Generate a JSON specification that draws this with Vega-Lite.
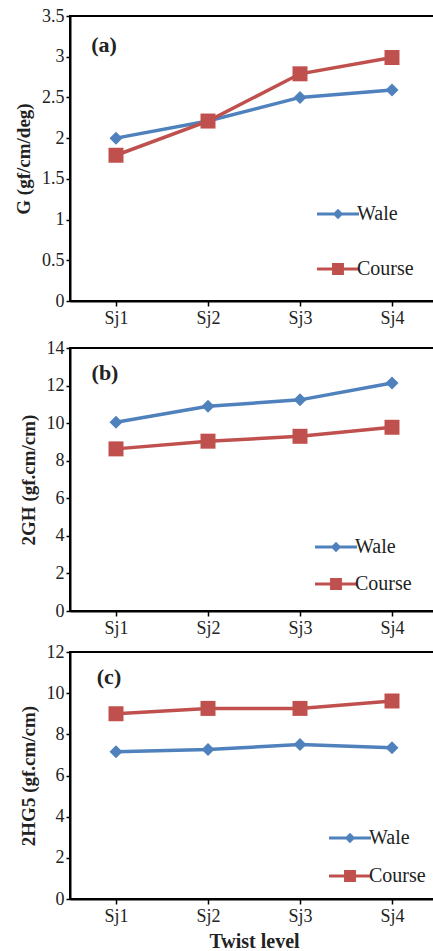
{
  "$schema": "https://vega.github.io/schema/vega-lite/v6.json",
  "background": "white",
  "padding": {"top": 6, "left": 13, "right": 0, "bottom": 0},
  "spacing": 10,
  "datasets": {
    "pts": [
      {"panel": "a", "level": "Sj1", "series": "Wale", "value": 2.0},
      {"panel": "a", "level": "Sj2", "series": "Wale", "value": 2.21},
      {"panel": "a", "level": "Sj3", "series": "Wale", "value": 2.5},
      {"panel": "a", "level": "Sj4", "series": "Wale", "value": 2.59},
      {"panel": "a", "level": "Sj1", "series": "Course", "value": 1.79},
      {"panel": "a", "level": "Sj2", "series": "Course", "value": 2.21},
      {"panel": "a", "level": "Sj3", "series": "Course", "value": 2.79},
      {"panel": "a", "level": "Sj4", "series": "Course", "value": 2.99},
      {"panel": "b", "level": "Sj1", "series": "Wale", "value": 10.05},
      {"panel": "b", "level": "Sj2", "series": "Wale", "value": 10.9},
      {"panel": "b", "level": "Sj3", "series": "Wale", "value": 11.24},
      {"panel": "b", "level": "Sj4", "series": "Wale", "value": 12.14},
      {"panel": "b", "level": "Sj1", "series": "Course", "value": 8.63},
      {"panel": "b", "level": "Sj2", "series": "Course", "value": 9.04},
      {"panel": "b", "level": "Sj3", "series": "Course", "value": 9.3},
      {"panel": "b", "level": "Sj4", "series": "Course", "value": 9.78},
      {"panel": "c", "level": "Sj1", "series": "Wale", "value": 7.15},
      {"panel": "c", "level": "Sj2", "series": "Wale", "value": 7.26},
      {"panel": "c", "level": "Sj3", "series": "Wale", "value": 7.51},
      {"panel": "c", "level": "Sj4", "series": "Wale", "value": 7.35},
      {"panel": "c", "level": "Sj1", "series": "Course", "value": 9.0},
      {"panel": "c", "level": "Sj2", "series": "Course", "value": 9.26},
      {"panel": "c", "level": "Sj3", "series": "Course", "value": 9.26},
      {"panel": "c", "level": "Sj4", "series": "Course", "value": 9.62}
    ]
  },
  "vconcat": [
    {
      "width": 368, "height": 285,
      "data": {"name": "pts"},
      "transform": [{"filter": "datum.panel == 'a'"}],
      "layer": [
        {
          "transform": [{"filter": "datum.series == 'Wale'"}],
          "mark": {"type": "line", "strokeWidth": 3.5, "color": "#4F81BD"},
          "encoding": {
            "x": {"field": "level", "type": "ordinal", "title": null, "scale": {"paddingInner": 0, "paddingOuter": 0}, "axis": {"orient": "bottom", "ticks": false, "tickSize": 0, "domain": false, "labelAngle": 0, "labelPadding": 8}},
            "y": {"field": "value", "type": "quantitative", "title": "G (gf/cm/deg)", "scale": {"domain": [0, 3.5]}, "axis": {"values": [0, 0.5, 1, 1.5, 2, 2.5, 3, 3.5], "format": "~g", "labelOverlap": false, "labelFlush": false}}
          }
        },
        {
          "transform": [{"filter": "datum.series == 'Course'"}],
          "mark": {"type": "line", "strokeWidth": 3.5, "color": "#C0504D"},
          "encoding": {
            "x": {"field": "level", "type": "ordinal", "axis": null},
            "y": {"field": "value", "type": "quantitative", "title": "G (gf/cm/deg)", "scale": {"domain": [0, 3.5]}, "axis": {"values": [0, 0.5, 1, 1.5, 2, 2.5, 3, 3.5], "format": "~g", "labelOverlap": false, "labelFlush": false}}
          }
        },
        {
          "transform": [{"filter": "datum.series == 'Wale'"}],
          "mark": {"type": "point", "shape": "diamond", "filled": true, "opacity": 1, "size": 169, "color": "#4F81BD"},
          "encoding": {
            "x": {"field": "level", "type": "ordinal", "title": null, "axis": {"orient": "bottom", "bandPosition": 0, "labels": false, "ticks": true, "tickSize": 5, "domain": true}},
            "y": {"field": "value", "type": "quantitative", "title": "G (gf/cm/deg)", "scale": {"domain": [0, 3.5]}, "axis": {"values": [0, 0.5, 1, 1.5, 2, 2.5, 3, 3.5], "format": "~g", "labelOverlap": false, "labelFlush": false}}
          }
        },
        {
          "transform": [{"filter": "datum.series == 'Course'"}],
          "mark": {"type": "point", "shape": "square", "filled": true, "opacity": 1, "size": 225, "color": "#C0504D"},
          "encoding": {
            "x": {"field": "level", "type": "ordinal", "axis": null},
            "y": {"field": "value", "type": "quantitative", "title": "G (gf/cm/deg)", "scale": {"domain": [0, 3.5]}, "axis": {"values": [0, 0.5, 1, 1.5, 2, 2.5, 3, 3.5], "format": "~g", "labelOverlap": false, "labelFlush": false}}
          }
        },
        {
          "transform": [{"filter": "false"}],
          "mark": {"type": "point", "filled": true, "opacity": 1, "size": 196},
          "encoding": {
            "x": {"field": "level", "type": "ordinal", "axis": null},
            "y": {"field": "value", "type": "quantitative", "title": "G (gf/cm/deg)", "scale": {"domain": [0, 3.5]}, "axis": {"values": [0, 0.5, 1, 1.5, 2, 2.5, 3, 3.5], "format": "~g", "labelOverlap": false, "labelFlush": false}},
            "color": {"field": "series", "type": "nominal", "scale": {"domain": ["Wale", "Course"], "range": ["#4F81BD", "#C0504D"]},
              "legend": {"orient": "none", "legendX": 244, "legendY": 188, "title": null, "padding": 0, "labelFont": "Liberation Serif", "labelFontSize": 20, "labelColor": "#222222", "symbolSize": 196, "labelOffset": 23, "rowPadding": 35, "symbolStrokeWidth": 0, "symbolOpacity": 1}},
            "shape": {"field": "series", "type": "nominal",
              "scale": {"domain": ["Wale", "Course"], "range": ["M-1,-0.2L5,-0.2L5,0.2L-1,0.2Z M2,-0.75L2.75,0L2,0.75L1.25,0Z", "M-1,-0.2L5,-0.2L5,0.2L-1,0.2Z M1.15,-0.85L2.85,-0.85L2.85,0.85L1.15,0.85Z"]},
              "legend": {"orient": "none", "legendX": 244, "legendY": 188, "title": null, "padding": 0, "labelFont": "Liberation Serif", "labelFontSize": 20, "labelColor": "#222222", "symbolSize": 196, "labelOffset": 23, "rowPadding": 35, "symbolStrokeWidth": 0, "symbolOpacity": 1}}
          }
        },
        {
          "data": {"values": [{"label": "(a)"}]},
          "mark": {"type": "text", "font": "Liberation Serif", "fontWeight": "bold", "fontSize": 22, "color": "#222222", "dx": -12, "baseline": "middle"},
          "encoding": {
            "x": {"datum": "Sj1", "type": "ordinal", "axis": null},
            "y": {"datum": 3.14, "type": "quantitative", "title": "G (gf/cm/deg)", "scale": {"domain": [0, 3.5]}, "axis": {"values": [0, 0.5, 1, 1.5, 2, 2.5, 3, 3.5], "format": "~g", "labelOverlap": false, "labelFlush": false}},
            "text": {"field": "label"}
          }
        }
      ],
      "resolve": {"axis": {"x": "independent"}}
    },
    {
      "vconcat": [
        {
          "width": 368, "height": 263,
          "data": {"name": "pts"},
          "transform": [{"filter": "datum.panel == 'b'"}],
          "layer": [
            {
              "transform": [{"filter": "datum.series == 'Wale'"}],
              "mark": {"type": "line", "strokeWidth": 3.5, "color": "#4F81BD"},
              "encoding": {
                "x": {"field": "level", "type": "ordinal", "title": null, "scale": {"paddingInner": 0, "paddingOuter": 0}, "axis": {"orient": "bottom", "ticks": false, "tickSize": 0, "domain": false, "labelAngle": 0, "labelPadding": 8}},
                "y": {"field": "value", "type": "quantitative", "title": "2GH (gf.cm/cm)", "scale": {"domain": [0, 14]}, "axis": {"values": [0, 2, 4, 6, 8, 10, 12, 14], "format": "~g", "labelOverlap": false, "labelFlush": false}}
              }
            },
            {
              "transform": [{"filter": "datum.series == 'Course'"}],
              "mark": {"type": "line", "strokeWidth": 3.5, "color": "#C0504D"},
              "encoding": {
                "x": {"field": "level", "type": "ordinal", "axis": null},
                "y": {"field": "value", "type": "quantitative", "title": "2GH (gf.cm/cm)", "scale": {"domain": [0, 14]}, "axis": {"values": [0, 2, 4, 6, 8, 10, 12, 14], "format": "~g", "labelOverlap": false, "labelFlush": false}}
              }
            },
            {
              "transform": [{"filter": "datum.series == 'Wale'"}],
              "mark": {"type": "point", "shape": "diamond", "filled": true, "opacity": 1, "size": 169, "color": "#4F81BD"},
              "encoding": {
                "x": {"field": "level", "type": "ordinal", "title": null, "axis": {"orient": "bottom", "bandPosition": 0, "labels": false, "ticks": true, "tickSize": 5, "domain": true}},
                "y": {"field": "value", "type": "quantitative", "title": "2GH (gf.cm/cm)", "scale": {"domain": [0, 14]}, "axis": {"values": [0, 2, 4, 6, 8, 10, 12, 14], "format": "~g", "labelOverlap": false, "labelFlush": false}}
              }
            },
            {
              "transform": [{"filter": "datum.series == 'Course'"}],
              "mark": {"type": "point", "shape": "square", "filled": true, "opacity": 1, "size": 225, "color": "#C0504D"},
              "encoding": {
                "x": {"field": "level", "type": "ordinal", "axis": null},
                "y": {"field": "value", "type": "quantitative", "title": "2GH (gf.cm/cm)", "scale": {"domain": [0, 14]}, "axis": {"values": [0, 2, 4, 6, 8, 10, 12, 14], "format": "~g", "labelOverlap": false, "labelFlush": false}}
              }
            },
            {
              "transform": [{"filter": "false"}],
              "mark": {"type": "point", "filled": true, "opacity": 1, "size": 196},
              "encoding": {
                "x": {"field": "level", "type": "ordinal", "axis": null},
                "y": {"field": "value", "type": "quantitative", "title": "2GH (gf.cm/cm)", "scale": {"domain": [0, 14]}, "axis": {"values": [0, 2, 4, 6, 8, 10, 12, 14], "format": "~g", "labelOverlap": false, "labelFlush": false}},
                "color": {"field": "series", "type": "nominal", "scale": {"domain": ["Wale", "Course"], "range": ["#4F81BD", "#C0504D"]},
                  "legend": {"orient": "none", "legendX": 242, "legendY": 189, "title": null, "padding": 0, "labelFont": "Liberation Serif", "labelFontSize": 20, "labelColor": "#222222", "symbolSize": 196, "labelOffset": 23, "rowPadding": 17, "symbolStrokeWidth": 0, "symbolOpacity": 1}},
                "shape": {"field": "series", "type": "nominal",
                  "scale": {"domain": ["Wale", "Course"], "range": ["M-1,-0.2L5,-0.2L5,0.2L-1,0.2Z M2,-0.75L2.75,0L2,0.75L1.25,0Z", "M-1,-0.2L5,-0.2L5,0.2L-1,0.2Z M1.15,-0.85L2.85,-0.85L2.85,0.85L1.15,0.85Z"]},
                  "legend": {"orient": "none", "legendX": 242, "legendY": 189, "title": null, "padding": 0, "labelFont": "Liberation Serif", "labelFontSize": 20, "labelColor": "#222222", "symbolSize": 196, "labelOffset": 23, "rowPadding": 17, "symbolStrokeWidth": 0, "symbolOpacity": 1}}
              }
            },
            {
              "data": {"values": [{"label": "(b)"}]},
              "mark": {"type": "text", "font": "Liberation Serif", "fontWeight": "bold", "fontSize": 22, "color": "#222222", "dx": -11, "baseline": "middle"},
              "encoding": {
                "x": {"datum": "Sj1", "type": "ordinal", "axis": null},
                "y": {"datum": 12.67, "type": "quantitative", "title": "2GH (gf.cm/cm)", "scale": {"domain": [0, 14]}, "axis": {"values": [0, 2, 4, 6, 8, 10, 12, 14], "format": "~g", "labelOverlap": false, "labelFlush": false}},
                "text": {"field": "label"}
              }
            }
          ],
          "resolve": {"axis": {"x": "independent"}}
        },
        {
          "width": 368, "height": 247,
          "data": {"name": "pts"},
          "transform": [{"filter": "datum.panel == 'c'"}],
          "layer": [
            {
              "transform": [{"filter": "datum.series == 'Wale'"}],
              "mark": {"type": "line", "strokeWidth": 3.5, "color": "#4F81BD"},
              "encoding": {
                "x": {"field": "level", "type": "ordinal", "title": "Twist level", "scale": {"paddingInner": 0, "paddingOuter": 0}, "axis": {"orient": "bottom", "ticks": false, "tickSize": 0, "domain": false, "labelAngle": 0, "labelPadding": 8, "titleFontSize": 20, "titlePadding": 6}},
                "y": {"field": "value", "type": "quantitative", "title": "2HG5 (gf.cm/cm)", "scale": {"domain": [0, 12]}, "axis": {"values": [0, 2, 4, 6, 8, 10, 12], "format": "~g", "labelOverlap": false, "labelFlush": false}}
              }
            },
            {
              "transform": [{"filter": "datum.series == 'Course'"}],
              "mark": {"type": "line", "strokeWidth": 3.5, "color": "#C0504D"},
              "encoding": {
                "x": {"field": "level", "type": "ordinal", "axis": null},
                "y": {"field": "value", "type": "quantitative", "title": "2HG5 (gf.cm/cm)", "scale": {"domain": [0, 12]}, "axis": {"values": [0, 2, 4, 6, 8, 10, 12], "format": "~g", "labelOverlap": false, "labelFlush": false}}
              }
            },
            {
              "transform": [{"filter": "datum.series == 'Wale'"}],
              "mark": {"type": "point", "shape": "diamond", "filled": true, "opacity": 1, "size": 169, "color": "#4F81BD"},
              "encoding": {
                "x": {"field": "level", "type": "ordinal", "title": null, "axis": {"orient": "bottom", "bandPosition": 0, "labels": false, "ticks": true, "tickSize": 5, "domain": true}},
                "y": {"field": "value", "type": "quantitative", "title": "2HG5 (gf.cm/cm)", "scale": {"domain": [0, 12]}, "axis": {"values": [0, 2, 4, 6, 8, 10, 12], "format": "~g", "labelOverlap": false, "labelFlush": false}}
              }
            },
            {
              "transform": [{"filter": "datum.series == 'Course'"}],
              "mark": {"type": "point", "shape": "square", "filled": true, "opacity": 1, "size": 225, "color": "#C0504D"},
              "encoding": {
                "x": {"field": "level", "type": "ordinal", "axis": null},
                "y": {"field": "value", "type": "quantitative", "title": "2HG5 (gf.cm/cm)", "scale": {"domain": [0, 12]}, "axis": {"values": [0, 2, 4, 6, 8, 10, 12], "format": "~g", "labelOverlap": false, "labelFlush": false}}
              }
            },
            {
              "transform": [{"filter": "false"}],
              "mark": {"type": "point", "filled": true, "opacity": 1, "size": 196},
              "encoding": {
                "x": {"field": "level", "type": "ordinal", "axis": null},
                "y": {"field": "value", "type": "quantitative", "title": "2HG5 (gf.cm/cm)", "scale": {"domain": [0, 12]}, "axis": {"values": [0, 2, 4, 6, 8, 10, 12], "format": "~g", "labelOverlap": false, "labelFlush": false}},
                "color": {"field": "series", "type": "nominal", "scale": {"domain": ["Wale", "Course"], "range": ["#4F81BD", "#C0504D"]},
                  "legend": {"orient": "none", "legendX": 256, "legendY": 176, "title": null, "padding": 0, "labelFont": "Liberation Serif", "labelFontSize": 20, "labelColor": "#222222", "symbolSize": 196, "labelOffset": 23, "rowPadding": 18, "symbolStrokeWidth": 0, "symbolOpacity": 1}},
                "shape": {"field": "series", "type": "nominal",
                  "scale": {"domain": ["Wale", "Course"], "range": ["M-1,-0.2L5,-0.2L5,0.2L-1,0.2Z M2,-0.75L2.75,0L2,0.75L1.25,0Z", "M-1,-0.2L5,-0.2L5,0.2L-1,0.2Z M1.15,-0.85L2.85,-0.85L2.85,0.85L1.15,0.85Z"]},
                  "legend": {"orient": "none", "legendX": 256, "legendY": 176, "title": null, "padding": 0, "labelFont": "Liberation Serif", "labelFontSize": 20, "labelColor": "#222222", "symbolSize": 196, "labelOffset": 23, "rowPadding": 18, "symbolStrokeWidth": 0, "symbolOpacity": 1}}
              }
            },
            {
              "data": {"values": [{"label": "(c)"}]},
              "mark": {"type": "text", "font": "Liberation Serif", "fontWeight": "bold", "fontSize": 22, "color": "#222222", "dx": -7, "baseline": "middle"},
              "encoding": {
                "x": {"datum": "Sj1", "type": "ordinal", "axis": null},
                "y": {"datum": 10.78, "type": "quantitative", "title": "2HG5 (gf.cm/cm)", "scale": {"domain": [0, 12]}, "axis": {"values": [0, 2, 4, 6, 8, 10, 12], "format": "~g", "labelOverlap": false, "labelFlush": false}},
                "text": {"field": "label"}
              }
            }
          ],
          "resolve": {"axis": {"x": "independent"}}
        }
      ],
      "spacing": 4,
      "resolve": {"scale": {"color": "independent", "shape": "independent"}, "legend": {"color": "independent", "shape": "independent"}}
    }
  ],
  "resolve": {"scale": {"color": "independent", "shape": "independent"}, "legend": {"color": "independent", "shape": "independent"}},
  "config": {
    "font": "Liberation Serif",
    "view": {"stroke": "#000000", "strokeWidth": 2},
    "axis": {
      "grid": false,
      "domainColor": "#000000", "domainWidth": 2,
      "tickColor": "#000000", "tickWidth": 1.5, "tickSize": 4,
      "labelFont": "Liberation Serif", "labelFontSize": 18, "labelColor": "#222222", "labelPadding": 2,
      "titleFont": "Liberation Serif", "titleFontSize": 19, "titleFontWeight": "bold", "titleColor": "#222222", "titlePadding": 8
    }
  }
}
